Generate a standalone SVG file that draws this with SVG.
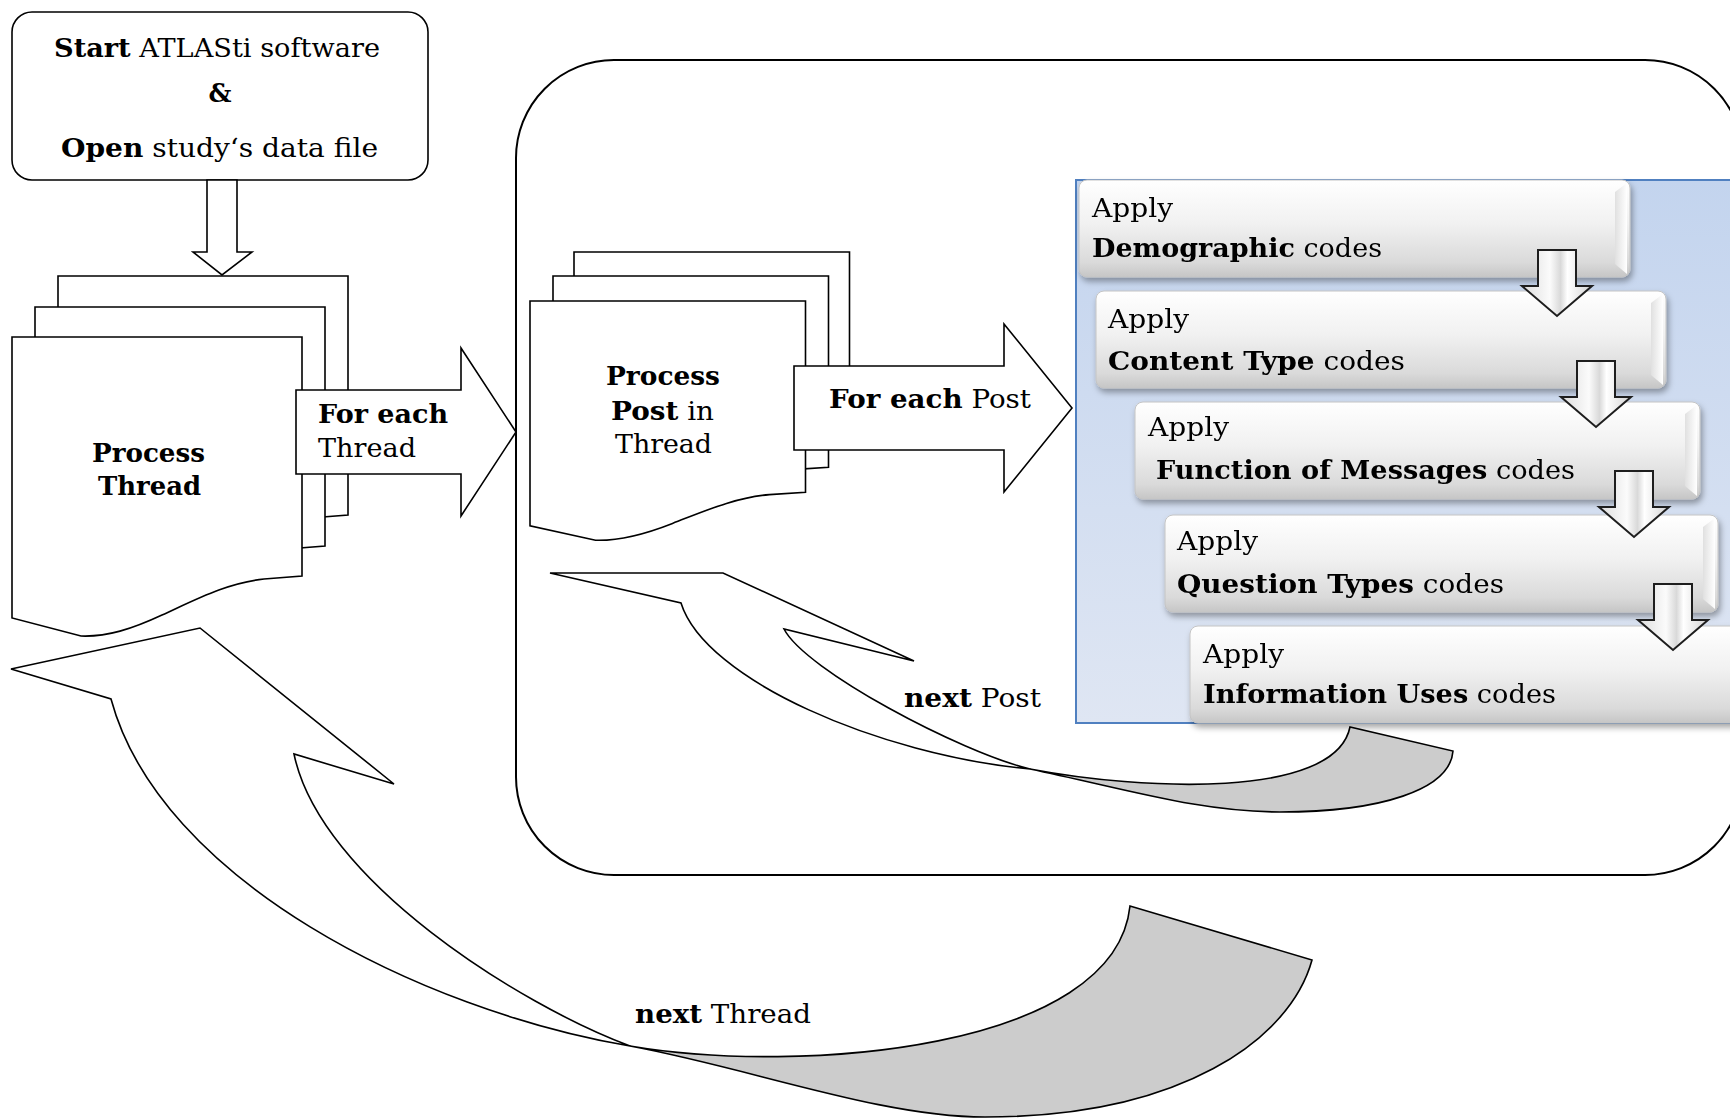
<svg xmlns="http://www.w3.org/2000/svg" width="1730" height="1118" viewBox="0 0 1730 1118">
<style>
text{font-family:"DejaVu Serif","Liberation Serif",serif;font-size:25.5px;fill:#000}
.b{font-weight:bold}
.ln{fill:#fff;stroke:#000;stroke-width:1.6;stroke-linejoin:miter}
.pg{fill:#fff;stroke:#000;stroke-width:1.6;vector-effect:non-scaling-stroke}
.gray{fill:#cccccc;stroke:#000;stroke-width:1.6}
.bx{fill:url(#boxg);stroke:#c4c4c4;stroke-width:1}
.bev{fill:url(#bevg)}
.dar{fill:url(#darg);stroke:#1e1e1e;stroke-width:2;stroke-linejoin:miter}
</style>
<defs>
<path id="page" class="pg" d="M0,0 H290 V239 L252,242 C215,246 185,262 150,278 C120,292 95,300 69,299 L0,281 Z"/>
<linearGradient id="panelg" x1="0" y1="0" x2="0" y2="1">
<stop offset="0" stop-color="#c3d4ee"/><stop offset="1" stop-color="#dfe6f3"/>
</linearGradient>
<linearGradient id="boxg" x1="0" y1="0" x2="0" y2="1">
<stop offset="0" stop-color="#ffffff"/><stop offset="0.45" stop-color="#f1f1f1"/><stop offset="0.85" stop-color="#dadada"/><stop offset="1" stop-color="#c6c6c6"/>
</linearGradient>
<linearGradient id="bevg" x1="0" y1="0" x2="1" y2="0">
<stop offset="0" stop-color="#e0e0e0"/><stop offset="1" stop-color="#ffffff"/>
</linearGradient>
<linearGradient id="darg" x1="0" y1="0" x2="1" y2="0">
<stop offset="0" stop-color="#dcdcdc"/><stop offset="0.4" stop-color="#fbfbfb"/><stop offset="0.55" stop-color="#d9d9d9"/><stop offset="0.65" stop-color="#ffffff"/><stop offset="1" stop-color="#d2d2d2"/>
</linearGradient>
<filter id="sh" x="-5%" y="-10%" width="112%" height="140%">
<feDropShadow dx="2" dy="4" stdDeviation="3" flood-color="#000" flood-opacity="0.35"/>
</filter>
</defs>

<rect width="1730" height="1118" fill="#fff"/>

<g id="container">
<rect x="516" y="60" width="1227" height="815" rx="98" ry="98" fill="none" stroke="#000" stroke-width="2"/>
</g>

<g id="node-start">
<rect x="12" y="12" width="416" height="168" rx="20" ry="20" fill="#fff" stroke="#000" stroke-width="1.6"/>
<text x="54" y="57" textLength="326" lengthAdjust="spacingAndGlyphs"><tspan class="b">Start</tspan> ATLASti software</text>
<text x="220" y="102" text-anchor="middle" class="b" font-size="28">&amp;</text>
<text x="61" y="157" textLength="317" lengthAdjust="spacingAndGlyphs"><tspan class="b">Open</tspan> study‘s data file</text>
</g>

<g id="node-thread">
<use href="#page" transform="translate(58,276)"/>
<use href="#page" transform="translate(35,307)"/>
<use href="#page" transform="translate(12,337)"/>
<text x="92" y="462" class="b" textLength="113" lengthAdjust="spacingAndGlyphs">Process</text>
<text x="98" y="495" class="b" textLength="103" lengthAdjust="spacingAndGlyphs">Thread</text>
</g>

<g id="node-post">
<use href="#page" transform="translate(574,252) scale(0.95,0.8)"/>
<use href="#page" transform="translate(553,276) scale(0.95,0.8)"/>
<use href="#page" transform="translate(530,301) scale(0.95,0.8)"/>
<text x="606" y="385" class="b" textLength="114" lengthAdjust="spacingAndGlyphs">Process</text>
<text x="611" y="420" textLength="103" lengthAdjust="spacingAndGlyphs"><tspan class="b">Post</tspan> in</text>
<text x="615" y="453" textLength="97" lengthAdjust="spacingAndGlyphs">Thread</text>
</g>

<g id="node-codes">
<rect x="1076" y="180" width="680" height="543" fill="url(#panelg)" stroke="#5080c0" stroke-width="2"/>
<g id="box-demographic" filter="url(#sh)">
<rect class="bx" x="1079" y="180" width="551" height="97" rx="8"/>
<path class="bev" d="M1615,192 L1627,183 L1627,274 L1615,264 Z"/>
<text x="1092" y="217" textLength="81" lengthAdjust="spacingAndGlyphs">Apply</text>
<text x="1092" y="257" textLength="290" lengthAdjust="spacingAndGlyphs"><tspan class="b">Demographic</tspan> codes</text>
</g>
<g id="box-content" filter="url(#sh)">
<rect class="bx" x="1096" y="291" width="570" height="97" rx="8"/>
<path class="bev" d="M1651,303 L1663,294 L1663,385 L1651,375 Z"/>
<text x="1108" y="328" textLength="81" lengthAdjust="spacingAndGlyphs">Apply</text>
<text x="1108" y="370" textLength="297" lengthAdjust="spacingAndGlyphs"><tspan class="b">Content Type</tspan> codes</text>
</g>
<g id="box-function" filter="url(#sh)">
<rect class="bx" x="1135" y="402" width="565" height="97" rx="8"/>
<path class="bev" d="M1685,414 L1697,405 L1697,496 L1685,486 Z"/>
<text x="1148" y="436" textLength="81" lengthAdjust="spacingAndGlyphs">Apply</text>
<text x="1156" y="479" textLength="419" lengthAdjust="spacingAndGlyphs"><tspan class="b">Function of Messages</tspan> codes</text>
</g>
<g id="box-question" filter="url(#sh)">
<rect class="bx" x="1165" y="515" width="553" height="97" rx="8"/>
<path class="bev" d="M1703,527 L1715,518 L1715,609 L1703,599 Z"/>
<text x="1177" y="550" textLength="81" lengthAdjust="spacingAndGlyphs">Apply</text>
<text x="1177" y="593" textLength="327" lengthAdjust="spacingAndGlyphs"><tspan class="b">Question Types</tspan> codes</text>
</g>
<g id="box-information" filter="url(#sh)">
<rect class="bx" x="1190" y="626" width="570" height="97" rx="8"/>
<text x="1203" y="663" textLength="81" lengthAdjust="spacingAndGlyphs">Apply</text>
<text x="1203" y="703" textLength="353" lengthAdjust="spacingAndGlyphs"><tspan class="b">Information Uses</tspan> codes</text>
</g>
</g>

<g id="connectors">
<polygon id="arrow-start-thread" class="ln" points="207,180 237,180 237,252 252,252 222,275 193,252 207,252"/>
<g id="arrow-foreach-thread">
<polygon class="ln" points="296,390 461,390 461,348 516,432 461,516 461,474 296,474"/>
<text x="318" y="423" class="b" textLength="130" lengthAdjust="spacingAndGlyphs">For each</text>
<text x="318" y="457" textLength="98" lengthAdjust="spacingAndGlyphs">Thread</text>
</g>
<g id="arrow-foreach-post">
<polygon class="ln" points="794,366 1004,366 1004,324 1072,408 1004,492 1004,450 794,450"/>
<text x="829" y="408" textLength="202" lengthAdjust="spacingAndGlyphs"><tspan class="b">For each</tspan> Post</text>
</g>
<g id="arrows-codes">
<polygon class="dar" points="1538,250 1576,250 1576,286 1592,286 1557,316 1522,286 1538,286"/>
<polygon class="dar" points="1577,361 1615,361 1615,397 1631,397 1596,427 1561,397 1577,397"/>
<polygon class="dar" points="1615,471 1653,471 1653,507 1669,507 1634,537 1599,507 1615,507"/>
<polygon class="dar" points="1654,584 1692,584 1692,620 1708,620 1673,650 1638,620 1654,620"/>
</g>
<g id="arrow-next-post">
<path class="ln" d="M550,573 L723,573 L914,661 L784,629 C805,670 960,752 1030,769 C880,755 705,680 681,603 Z"/>
<path class="gray" d="M1030,769 C1140,790 1335,800 1350,727 L1453,751 C1450,790 1380,812 1280,812 C1200,812 1130,790 1030,769 Z"/>
<text x="904" y="707" textLength="137" lengthAdjust="spacingAndGlyphs"><tspan class="b">next</tspan> Post</text>
</g>
<g id="arrow-next-thread">
<path class="ln" d="M11,669 L200,628 L394,784 L294,754 C320,880 520,1005 630,1046 C420,1010 160,880 111,699 Z"/>
<path class="gray" d="M630,1046 C800,1075 1115,1050 1130,906 L1312,960 C1290,1040 1180,1117 985,1117 C880,1117 750,1068 630,1046 Z"/>
<text x="635" y="1023" textLength="176" lengthAdjust="spacingAndGlyphs"><tspan class="b">next</tspan> Thread</text>
</g>
</g>
</svg>
